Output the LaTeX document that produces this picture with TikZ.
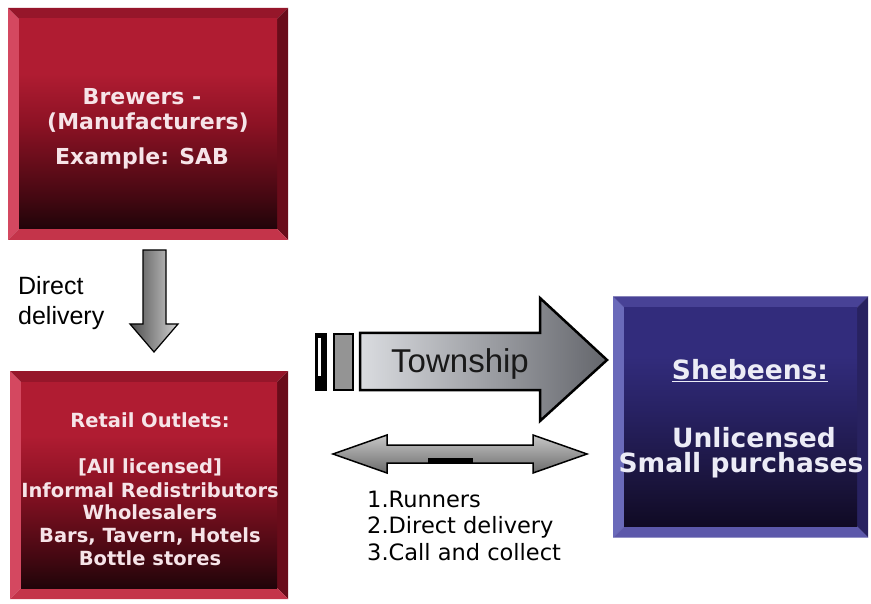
\documentclass[tikz,border=0pt]{standalone}
\usepackage{fontspec}
\setmainfont{DejaVu Sans}
\newfontfamily\arialfont{Liberation Sans}
\usetikzlibrary{calc}

% box colours
\definecolor{redtop}{RGB}{176,28,50}
\definecolor{redmid}{RGB}{140,18,36}
\definecolor{reddark}{RGB}{70,8,18}
\definecolor{redbot}{RGB}{32,4,9}
\definecolor{redbevL}{RGB}{212,72,96}
\definecolor{redbevT}{RGB}{150,22,42}
\definecolor{redbevR}{RGB}{105,12,26}
\definecolor{redbevB}{RGB}{196,52,74}
\definecolor{redtext}{RGB}{246,228,232}

\definecolor{bluetop}{RGB}{50,44,124}
\definecolor{bluemid}{RGB}{40,34,100}
\definecolor{bluedark}{RGB}{26,20,60}
\definecolor{bluebot}{RGB}{16,10,36}
\definecolor{bluebevL}{RGB}{106,106,186}
\definecolor{bluebevT}{RGB}{72,66,150}
\definecolor{bluebevR}{RGB}{40,34,96}
\definecolor{bluebevB}{RGB}{92,88,170}
\definecolor{bluetext}{RGB}{236,236,246}

\definecolor{arrowlight}{RGB}{218,220,224}
\definecolor{arrowdark}{RGB}{100,102,108}

% vertical fades for the box faces (path spans 25bp..75bp)
\pgfdeclareverticalshading{redfade}{100bp}{color(0bp)=(redbot); color(25bp)=(redbot);
  color(33bp)=(reddark); color(50bp)=(redmid); color(62bp)=(redtop); color(100bp)=(redtop)}
\pgfdeclareverticalshading{bluefade}{100bp}{color(0bp)=(bluebot); color(25bp)=(bluebot);
  color(35bp)=(bluedark); color(52bp)=(bluemid); color(64bp)=(bluetop); color(100bp)=(bluetop)}

\tikzset{
  bevelbox/.style n args={5}{rectangle, inner sep=0pt, path picture={
    \path (path picture bounding box.north west) coordinate (pNW)
          (path picture bounding box.north east) coordinate (pNE)
          (path picture bounding box.south east) coordinate (pSE)
          (path picture bounding box.south west) coordinate (pSW);
    \path ($(pNW)+(11pt,-11pt)$) coordinate (qNW)
          ($(pNE)+(-11pt,-11pt)$) coordinate (qNE)
          ($(pSE)+(-11pt,11pt)$) coordinate (qSE)
          ($(pSW)+(11pt,11pt)$) coordinate (qSW);
    \fill[#1] (pNW) -- (pSW) -- (qSW) -- (qNW) -- cycle;
    \fill[#2] (pNW) -- (pNE) -- (qNE) -- (qNW) -- cycle;
    \fill[#3] (pNE) -- (pSE) -- (qSE) -- (qNE) -- cycle;
    \fill[#4] (pSW) -- (pSE) -- (qSE) -- (qSW) -- cycle;
    \shade[shading=#5] (qNW) rectangle (qSE);
  }},
  redbox/.style={bevelbox={redbevL}{redbevT}{redbevR}{redbevB}{redfade}},
  bluebox/.style={bevelbox={bluebevL}{bluebevT}{bluebevR}{bluebevB}{bluefade}},
  brewtext/.style={anchor=base, inner sep=0pt, text=redtext,
    font=\fontsize{22}{26}\selectfont\bfseries},
  retailtext/.style={anchor=base, inner sep=0pt, text=redtext,
    font=\fontsize{19.5}{23}\selectfont\bfseries},
  shebtext/.style={anchor=base, inner sep=0pt, text=bluetext,
    font=\fontsize{26.5}{30}\selectfont\bfseries},
  plainlabel/.style={anchor=base west, inner sep=0pt, text=black,
    font=\arialfont\fontsize{25}{30}\selectfont},
  listlabel/.style={anchor=base west, inner sep=0pt, text=black,
    font=\fontsize{22.5}{26}\selectfont},
  blockarrow/.style={draw=black, line width=2pt, line join=miter},
}

\begin{document}
\begin{tikzpicture}[x=1pt,y=-1pt]
\useasboundingbox (0,0) rectangle (871,604);
\fill[white] (0,0) rectangle (871,604);

% the three boxes
\node[redbox, minimum width=280pt, minimum height=232pt] (brewers) at (148,124) {};
\node[redbox, minimum width=278pt, minimum height=228pt] (retail) at (149,485) {};
\node[bluebox, minimum width=255pt, minimum height=241pt] (shebeens) at (740.5,417) {};

% box texts
\node[brewtext] (b1) at (142,105) {Brewers -};
\node[brewtext] (b2) at (148,130) {(Manufacturers)};
\node[brewtext] (b3) at (142,165) {Example: SAB};

\node[retailtext] (r1) at (150,427) {Retail Outlets:};
\node[retailtext] (r2) at (150,473) {[All licensed]};
\node[retailtext] (r3) at (150,497) {Informal Redistributors};
\node[retailtext] (r4) at (150,519) {Wholesalers};
\node[retailtext] (r5) at (150,542) {Bars, Tavern, Hotels};
\node[retailtext] (r6) at (150,565) {Bottle stores};

\node[shebtext] (s1) at (750,379) {\underline{Shebeens:}};
\node[shebtext] (s2) at (754,447) {Unlicensed};
\node[shebtext] (s3) at (741,472) {Small purchases};

% brewers -> retail: block arrow pointing down
\shade[left color=black!70, right color=black!18, blockarrow, line width=1.2pt]
  (143,250) -- (166,250) -- (166,324) -- (178,324) -- (154,352)
  -- (130,324) -- (143,324) -- cycle;
\node[plainlabel] (dd1) at (18,295) {Direct};
\node[plainlabel] (dd2) at (18,325) {delivery};

% retail -> shebeens: township block arrow with tail bars
\fill[black] (315,333) rectangle (327,391);
\fill[white] (318,338) rectangle (321,376);
\draw[fill=black!42, line width=1.5pt] (334,334) rectangle (353,390);
\shade[left color=arrowlight, right color=arrowdark, blockarrow, line width=2.5pt]
  (360,333) -- (540,333) -- (540,298) -- (607,360) -- (540,421)
  -- (540,390) -- (360,390) -- cycle;
\node[anchor=base, inner sep=0pt, font=\arialfont\fontsize{33}{37}\selectfont,
  text=black!90] (town) at (460,373) {Township};

% two-way block arrow between retail and shebeens
\shade[top color=black!22, bottom color=black!58, blockarrow, line width=1.5pt]
  (333,454) -- (387,435) -- (387,445) -- (533,445) -- (533,435) -- (587,454)
  -- (533,473) -- (533,463) -- (387,463) -- (387,473) -- cycle;
\fill[black] (428,458) rectangle (473,463);

\node[listlabel] (l1) at (367,507) {1.Runners};
\node[listlabel] (l2) at (367,533) {2.Direct delivery};
\node[listlabel] (l3) at (367,560) {3.Call and collect};
\end{tikzpicture}
\end{document}
